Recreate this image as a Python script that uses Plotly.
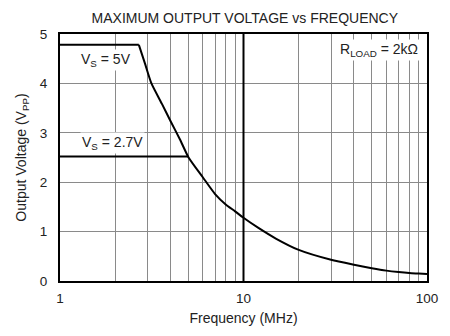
import plotly.graph_objects as go

# Data
freq_5v = [1, 2.69, 2.9, 3.15, 3.6, 4.0, 4.5, 5.02, 6.0, 7.0, 8.0, 9.0, 10, 12, 15, 20, 30, 40, 50, 60, 70, 80, 90, 100]
vout_5v = [4.78, 4.78, 4.41, 4.0, 3.58, 3.24, 2.87, 2.5, 2.1, 1.76, 1.55, 1.41, 1.28, 1.08, 0.86, 0.63, 0.43, 0.33, 0.26, 0.21, 0.18, 0.16, 0.15, 0.14]
freq_27v = [1, 5.0]
vout_27v = [2.52, 2.52]

x_tickvals = [1, 10, 100]
x_ticktext = ["1", "10", "100"]
x_minor_vals = [2, 3, 4, 5, 6, 7, 8, 9, 20, 30, 40, 50, 60, 70, 80, 90]
y_tickvals = [0, 1, 2, 3, 4, 5]

FONT = "Liberation Sans, Arial, sans-serif"
TXT = "#222"
GRID = "#8a8a8a"

fig = go.Figure()
# thick decade line at 10
fig.add_trace(go.Scatter(x=[10, 10], y=[0, 5], mode="lines",
                         line=dict(color="black", width=2), hoverinfo="skip", showlegend=False))
# 5V: flat part, then roll-off drawn smooth
fig.add_trace(go.Scatter(x=freq_5v[:2], y=vout_5v[:2], mode="lines",
                         line=dict(color="black", width=2), showlegend=False))
fig.add_trace(go.Scatter(x=freq_5v[1:], y=vout_5v[1:], mode="lines",
                         line=dict(color="black", width=2, shape="spline", smoothing=0.6),
                         showlegend=False))
fig.add_trace(go.Scatter(x=freq_27v, y=vout_27v, mode="lines",
                         line=dict(color="black", width=2), showlegend=False))

fig.update_layout(
    width=450, height=336,
    margin=dict(l=60, r=22, t=34, b=53),
    paper_bgcolor="white", plot_bgcolor="white",
    font=dict(family=FONT, size=14, color=TXT),
    title=dict(text="MAXIMUM OUTPUT VOLTAGE vs FREQUENCY", x=0.544, xanchor="center",
               y=0.946, yanchor="middle", font=dict(size=14, color=TXT)),
    xaxis=dict(type="log", range=[0, 2], tickvals=x_tickvals, ticktext=x_ticktext,
               showgrid=True, gridcolor=GRID, gridwidth=1,
               minor=dict(tickvals=x_minor_vals, showgrid=True, gridcolor=GRID,
                          gridwidth=1, ticks=""),
               showline=True, linecolor="black", linewidth=2, mirror=True,
               ticks="", zeroline=False, ticklabelstandoff=4,
               title=dict(text="Frequency (MHz)", standoff=8, font=dict(size=14)),
               tickfont=dict(size=13.5, color=TXT)),
    yaxis=dict(range=[0, 5], tickvals=y_tickvals,
               showgrid=True, gridcolor=GRID, gridwidth=1,
               showline=True, linecolor="black", linewidth=2, mirror=True,
               ticks="", zeroline=False, ticklabelstandoff=8,
               title=dict(text="Output Voltage (V<sub>PP</sub>)", standoff=10, font=dict(size=14)),
               tickfont=dict(size=13.5, color=TXT)),
    annotations=[
        dict(text="V<sub>S</sub> = 5V", xref="paper", yref="y", x=0.126, y=4.48,
             xanchor="center", yanchor="middle",
             showarrow=False, bgcolor="white", borderpad=1, font=dict(size=14, color=TXT)),
        dict(text="V<sub>S</sub> = 2.7V", xref="paper", yref="y", x=0.143, y=2.8,
             xanchor="center", yanchor="middle",
             showarrow=False, bgcolor="white", borderpad=1, font=dict(size=14, color=TXT)),
        dict(text="R<sub>LOAD</sub> = 2kΩ", xref="paper", yref="y", x=0.870, y=4.67,
             xanchor="center", yanchor="middle",
             showarrow=False, bgcolor="white", borderpad=1, font=dict(size=14, color=TXT)),
    ],
)

fig.write_html("out.html")
